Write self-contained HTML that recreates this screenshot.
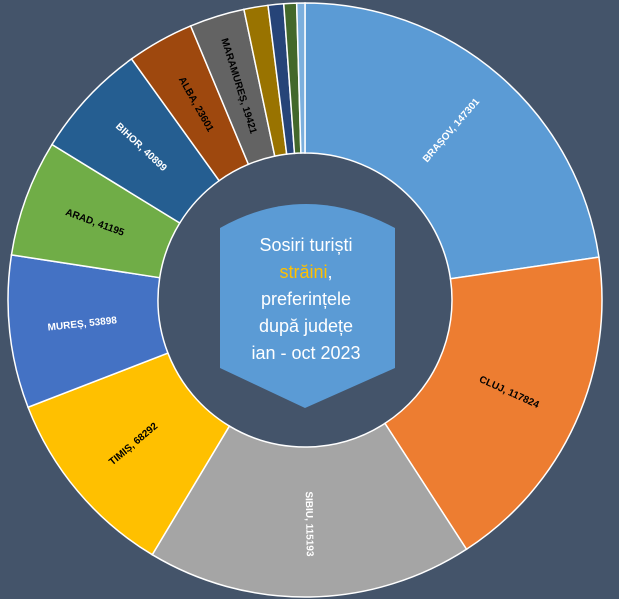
<!DOCTYPE html>
<html><head><meta charset="utf-8"><style>
html,body{margin:0;padding:0;background:#44546a;}
svg{display:block;font-family:"Liberation Sans",sans-serif;}
</style></head><body>
<svg id="c" width="619" height="599" viewBox="0 0 619 599">
<rect width="619" height="599" fill="#44546a"/>
<g id="slices"></g>
<g id="labels"></g>
<path d="M220,228 Q305,180 395,228 L395,368 L305,408 L220,368 Z" fill="#5b9bd5"/>
<g font-family="Liberation Sans, sans-serif" font-size="18" fill="#ffffff" text-anchor="middle">
<text x="306" y="251">Sosiri turiști</text>
<text x="306" y="278"><tspan fill="#ffc000">străini</tspan>,</text>
<text x="306" y="305">preferințele</text>
<text x="306" y="332">după județe</text>
<text x="306" y="359">ian - oct 2023</text>
</g>
</svg>
<script>
const categories=["BRAȘOV","CLUJ","SIBIU","TIMIȘ","MUREȘ","ARAD","BIHOR","ALBA","MARAMUREȘ","ALTELE1","ALTELE2","ALTELE3","ALTELE4"];
const values=[147301,117824,115193,68292,53898,41195,40899,23601,19421,8500,5500,4500,2900];
const showLabel=[true,true,true,true,true,true,true,true,true,false,false,false,false];
const colors=["#5b9bd5","#ed7d31","#a5a5a5","#ffc000","#4472c4","#70ad47","#255e91","#9e480e","#636363","#997300","#264478","#43682b","#7cafdd"];
const textColors=["#fff","#000","#fff","#000","#fff","#000","#fff","#000","#000","#fff","#fff","#fff","#fff"];
const cx=305,cy=300,R=297,r0=147;
const NS="http://www.w3.org/2000/svg";
const total=values.reduce((a,b)=>a+b,0);
function pt(a,rad){return [cx+rad*Math.sin(a),cy-rad*Math.cos(a)];}
let acc=0;
const gs=document.getElementById('slices'),gl=document.getElementById('labels');
values.forEach((v,i)=>{
  const a0=acc/total*2*Math.PI; acc+=v; const a1=acc/total*2*Math.PI;
  const large=(a1-a0)>Math.PI?1:0;
  const p1=pt(a0,R),p2=pt(a1,R),p3=pt(a1,r0),p4=pt(a0,r0);
  const p=document.createElementNS(NS,'path');
  p.setAttribute('d',`M${p1} A${R},${R} 0 ${large} 1 ${p2} L${p3} A${r0},${r0} 0 ${large} 0 ${p4} Z`);
  p.setAttribute('fill',colors[i]);p.setAttribute('stroke','#fff');p.setAttribute('stroke-width','1.5');
  
  
  gs.appendChild(p);
  if(showLabel[i]){
    const am=(a0+a1)/2; const [lx,ly]=pt(am,224);
    let rot=am*180/Math.PI-90; if(am>Math.PI) rot-=180;
    const t=document.createElementNS(NS,'text');
    t.setAttribute('x',lx);t.setAttribute('y',ly);
    t.setAttribute('transform',`rotate(${rot} ${lx} ${ly})`);
    t.setAttribute('text-anchor','middle');t.setAttribute('dominant-baseline','middle');
    t.setAttribute('font-size','10');t.setAttribute('font-weight','bold');
    t.setAttribute('fill',textColors[i]);
    t.textContent=categories[i]+', '+values[i];
    
    
    gl.appendChild(t);
  }
});
</script>
</body></html>
